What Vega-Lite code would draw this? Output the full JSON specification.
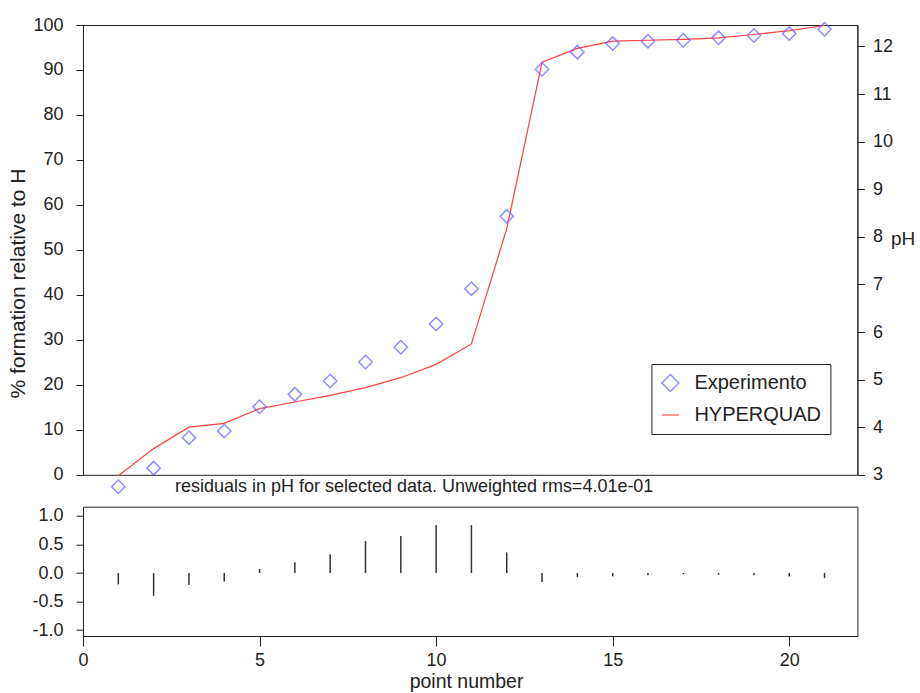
{
  "$schema": "https://vega.github.io/schema/vega-lite/v6.json",
  "padding": {"left": 7, "top": 15, "right": 5, "bottom": 5},
  "bounds": "flush",
  "spacing": 31.7,
  "background": "white",
  "datasets": {
    "pts": [
      {"n": 1, "Experimento": 2.75, "HYPERQUAD": 2.98, "res": -0.20},
      {"n": 2, "Experimento": 3.14, "HYPERQUAD": 3.55, "res": -0.40},
      {"n": 3, "Experimento": 3.78, "HYPERQUAD": 4.00, "res": -0.21},
      {"n": 4, "Experimento": 3.92, "HYPERQUAD": 4.08, "res": -0.15},
      {"n": 5, "Experimento": 4.43, "HYPERQUAD": 4.39, "res": 0.07},
      {"n": 6, "Experimento": 4.69, "HYPERQUAD": 4.53, "res": 0.19},
      {"n": 7, "Experimento": 4.97, "HYPERQUAD": 4.67, "res": 0.33},
      {"n": 8, "Experimento": 5.37, "HYPERQUAD": 4.83, "res": 0.56},
      {"n": 9, "Experimento": 5.68, "HYPERQUAD": 5.04, "res": 0.65},
      {"n": 10, "Experimento": 6.17, "HYPERQUAD": 5.32, "res": 0.84},
      {"n": 11, "Experimento": 6.91, "HYPERQUAD": 5.75, "res": 0.84},
      {"n": 12, "Experimento": 8.43, "HYPERQUAD": 8.17, "res": 0.36},
      {"n": 13, "Experimento": 11.52, "HYPERQUAD": 11.67, "res": -0.16},
      {"n": 14, "Experimento": 11.88, "HYPERQUAD": 11.96, "res": -0.07},
      {"n": 15, "Experimento": 12.06, "HYPERQUAD": 12.11, "res": -0.06},
      {"n": 16, "Experimento": 12.11, "HYPERQUAD": 12.13, "res": -0.04},
      {"n": 17, "Experimento": 12.13, "HYPERQUAD": 12.15, "res": -0.02},
      {"n": 18, "Experimento": 12.18, "HYPERQUAD": 12.18, "res": -0.03},
      {"n": 19, "Experimento": 12.23, "HYPERQUAD": 12.25, "res": -0.04},
      {"n": 20, "Experimento": 12.27, "HYPERQUAD": 12.33, "res": -0.06},
      {"n": 21, "Experimento": 12.36, "HYPERQUAD": 12.44, "res": -0.09}
    ]
  },
  "config": {
    "font": "Liberation Sans",
    "view": {"stroke": "#222", "strokeWidth": 1},
    "axis": {
      "labelFont": "Liberation Sans", "labelFontSize": 18, "labelColor": "#222",
      "titleFont": "Liberation Sans", "titleFontSize": 18, "titleFontWeight": "normal", "titleColor": "#222",
      "domainColor": "#222", "tickColor": "#222", "grid": false, "tickSize": 7
    }
  },
  "vconcat": [
    {
      "width": 774.4,
      "height": 449.8,
      "data": {"name": "pts"},
      "transform": [{"fold": ["Experimento", "HYPERQUAD"], "as": ["series", "pH"]}],
      "layer": [
        {
          "mark": {"type": "point", "opacity": 0},
          "encoding": {
            "x": {"field": "n", "type": "quantitative", "scale": {"domain": [0, 21.93], "nice": false, "zero": false}, "axis": null},
            "y": {
              "datum": 50, "type": "quantitative",
              "scale": {"domain": [0, 100], "nice": false},
              "axis": {
                "orient": "left", "values": [0, 10, 20, 30, 40, 50, 60, 70, 80, 90, 100],
                "title": "% formation relative to H", "labelPadding": 13, "titleFontSize": 21,
                "titleX": -64, "titleY": 258, "titleAngle": 270, "titleAlign": "center", "titleBaseline": "middle"
              }
            }
          }
        },
        {
          "layer": [
            {
              "transform": [{"filter": "datum.series == 'HYPERQUAD'"}],
              "mark": {"type": "line", "strokeWidth": 1.2},
              "encoding": {
                "x": {"field": "n", "type": "quantitative", "scale": {"domain": [0, 21.93], "nice": false, "zero": false}, "axis": null},
                "y": {
                  "field": "pH", "type": "quantitative",
                  "scale": {"domain": [3, 12.45], "nice": false, "zero": false},
                  "axis": {
                    "orient": "right", "values": [3, 4, 5, 6, 7, 8, 9, 10, 11, 12], "title": "pH",
                    "labelPadding": 8, "titleAngle": 0, "titleX": 33, "titleY": 219.5,
                    "titleAlign": "left", "titleBaseline": "alphabetic", "titleFontSize": 19
                  }
                },
                "color": {
                  "field": "series", "type": "nominal",
                  "scale": {"domain": ["Experimento", "HYPERQUAD"], "range": ["#6060ff", "#ff4040"]},
                  "legend": {
                    "orient": "none", "legendX": 568.4, "legendY": 339, "title": null,
                    "strokeColor": "#222", "fillColor": "white", "padding": 9,
                    "labelFontSize": 20, "labelFont": "Liberation Sans", "labelColor": "#222",
                    "symbolSize": 289, "symbolStrokeWidth": 1.5, "labelOffset": 14, "rowPadding": 10
                  }
                }
              }
            },
            {
              "transform": [{"filter": "datum.series == 'Experimento'"}],
              "mark": {"type": "point", "filled": false, "strokeWidth": 1.5, "size": 180},
              "encoding": {
                "x": {"field": "n", "type": "quantitative"},
                "y": {"field": "pH", "type": "quantitative"},
                "color": {
                  "field": "series", "type": "nominal",
                  "scale": {"domain": ["Experimento", "HYPERQUAD"], "range": ["#6060ff", "#ff4040"]},
                  "legend": {
                    "orient": "none", "legendX": 568.4, "legendY": 339, "title": null,
                    "strokeColor": "#222", "fillColor": "white", "padding": 9,
                    "labelFontSize": 20, "labelFont": "Liberation Sans", "labelColor": "#222",
                    "symbolSize": 289, "symbolStrokeWidth": 1.5, "labelOffset": 14, "rowPadding": 10
                  }
                },
                "shape": {
                  "field": "series", "type": "nominal",
                  "scale": {"domain": ["Experimento", "HYPERQUAD"], "range": ["diamond", "stroke"]},
                  "legend": {
                    "orient": "none", "legendX": 568.4, "legendY": 339, "title": null,
                    "strokeColor": "#222", "fillColor": "white", "padding": 9,
                    "labelFontSize": 20, "labelFont": "Liberation Sans", "labelColor": "#222",
                    "symbolSize": 289, "symbolStrokeWidth": 1.5, "labelOffset": 14, "rowPadding": 10
                  }
                }
              }
            }
          ]
        }
      ],
      "resolve": {"scale": {"y": "independent"}}
    },
    {
      "width": 774.4,
      "height": 129.3,
      "title": {
        "text": "residuals in pH for selected data. Unweighted rms=4.01e-01",
        "font": "Liberation Sans", "fontSize": 18, "fontWeight": "normal", "color": "#222",
        "anchor": "middle", "dx": -56, "baseline": "alphabetic", "offset": -3
      },
      "data": {"name": "pts"},
      "mark": {"type": "rule", "color": "#333", "strokeWidth": 1.5},
      "encoding": {
        "x": {
          "field": "n", "type": "quantitative",
          "scale": {"domain": [0, 21.93], "nice": false, "zero": false},
          "axis": {
            "values": [0, 5, 10, 15, 20], "title": "point number", "tickSize": 10,
            "labelPadding": 6, "labelDx": -4, "labelFlush": false, "titleFontSize": 19.5,
            "titleX": 383, "titleY": 51.7, "titleBaseline": "alphabetic", "titleAlign": "center"
          }
        },
        "y": {
          "field": "res", "type": "quantitative",
          "scale": {"domain": [-1.105, 1.163], "nice": false, "zero": false},
          "axis": {
            "values": [-1, -0.5, 0, 0.5, 1], "title": null, "labelPadding": 13,
            "labelExpr": "(datum.value < 0 ? '-' : '') + format(abs(datum.value), '.1f')"
          }
        },
        "y2": {"datum": 0}
      }
    }
  ]
}
